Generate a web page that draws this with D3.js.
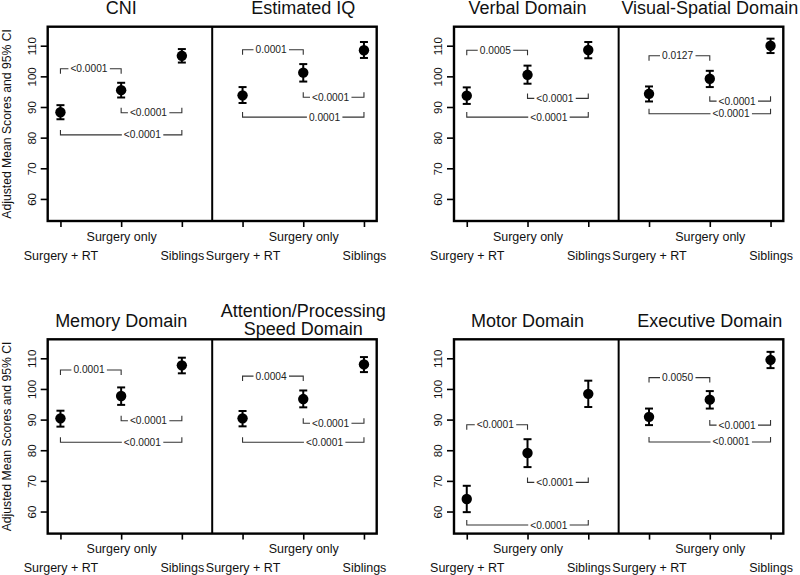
<!DOCTYPE html>
<html>
<head>
<meta charset="utf-8">
<script src="https://cdn.jsdelivr.net/npm/d3@7"></script>
<style>
  html, body { margin: 0; padding: 0; background: #fff; }
  svg { display: block; font-family: "Liberation Sans", Arial, Helvetica, sans-serif; }
</style>
</head>
<body>
<svg id="chart" width="800" height="575"></svg>
<script>
// ---------------- data ----------------
const titles = ["CNI", "Estimated IQ", "Verbal Domain", "Visual-Spatial Domain",
                "Memory Domain", "Attention/Processing\nSpeed Domain", "Motor Domain", "Executive Domain"];
const categories = ["Surgery + RT", "Surgery only", "Siblings"];
const means = [
  [88.3, 95.5, 106.7], [93.8, 101.2, 108.5], [93.7, 100.5, 108.6], [94.3, 99.2, 110.0],
  [90.4, 97.7, 107.7], [90.4, 96.7, 108.0], [64.1, 79.1, 98.4], [90.9, 96.5, 109.5]
];
const lower = [
  [86.0, 93.1, 104.5], [91.3, 98.3, 106.0], [91.0, 97.6, 105.9], [91.8, 96.5, 107.6],
  [87.7, 94.8, 105.1], [87.8, 94.0, 105.5], [59.8, 74.5, 94.1], [88.2, 93.6, 106.8]
];
const upper = [
  [90.6, 97.9, 108.9], [96.5, 104.0, 111.2], [96.4, 103.5, 111.2], [96.7, 101.8, 112.3],
  [92.9, 100.5, 110.2], [92.8, 99.5, 110.4], [68.4, 83.6, 102.7], [93.6, 99.3, 112.1]
];
// p-value brackets: [group1 vs group2, group2 vs group3, group1 vs group3]
const pLabels = [
  ["<0.0001", "<0.0001", "<0.0001"], ["0.0001", "<0.0001", "0.0001"],
  ["0.0005", "<0.0001", "<0.0001"], ["0.0127", "<0.0001", "<0.0001"],
  ["0.0001", "<0.0001", "<0.0001"], ["0.0004", "<0.0001", "<0.0001"],
  ["<0.0001", "<0.0001", "<0.0001"], ["0.0050", "<0.0001", "<0.0001"]
];
const pLevels = [
  [102.5, 88.1, 80.9], [108.7, 93.2, 86.7], [108.5, 92.8, 86.7], [106.7, 91.9, 87.8],
  [106.2, 89.6, 82.6], [104.2, 88.8, 82.6], [88.3, 69.5, 55.6], [103.7, 88.2, 82.7]
];
const yTicks = [60, 70, 80, 90, 100, 110];
const yTitle = "Adjusted Mean Scores and 95% CI";

// ---------------- layout ----------------
const svg = d3.select("#chart");
const rowTop = [26.7, 339.3], rowBottom = [221, 533.6];
const groupLeft = [47.7, 454], groupRight = [376.7, 783.3];
const yDomain = [52.8, 116.2];
const xDomain = [0.79, 6.21];

// bracket geometry (style)
const brPairs = [[0, 1], [1, 2], [0, 2]];
const brDir = [1, -1, -1];          // tick direction: +1 down, -1 up (pixels)
const brLabelFrac = [0.47, 0.45, 0.675];
const brTick = 5;

for (let row = 0; row < 2; row++) {
  for (let col = 0; col < 2; col++) {
    const g0 = row * 4 + col * 2; // index of left panel in this pair
    const x = d3.scaleLinear().domain(xDomain).range([groupLeft[col], groupRight[col]]);
    const y = d3.scaleLinear().domain(yDomain).range([rowBottom[row], rowTop[row]]);
    const g = svg.append("g");

    // left axis
    const ya = g.append("g")
      .attr("transform", `translate(${groupLeft[col]},0)`)
      .call(d3.axisLeft(y).tickValues(yTicks).tickSize(7).tickFormat(d3.format("d")));
    ya.select(".domain").remove();
    ya.selectAll(".tick line").attr("stroke", "#000").attr("stroke-width", 1.6);
    ya.selectAll(".tick text")
      .attr("x", null).attr("dy", null)
      .attr("transform", "translate(-16,0) rotate(-90)")
      .attr("text-anchor", "middle")
      .attr("dominant-baseline", "central")
      .attr("font-size", 11.5)
      .attr("fill", "#111");

    // bottom axis
    const xa = g.append("g")
      .attr("transform", `translate(0,${rowBottom[row]})`)
      .call(d3.axisBottom(x).tickValues([1, 2, 3, 4, 5, 6]).tickSize(6)
        .tickFormat(d => categories[(d - 1) % 3]));
    xa.select(".domain").remove();
    xa.selectAll(".tick line").attr("stroke", "#000").attr("stroke-width", 1.6);
    xa.selectAll(".tick text")
      .attr("y", d => ((d - 1) % 3 === 1) ? 15.8 : 34.5)
      .attr("dy", null)
      .attr("dominant-baseline", "central")
      .attr("font-size", 12.5)
      .attr("fill", "#111");

    // y-axis title for left groups
    if (col === 0) {
      g.append("text")
        .attr("transform", `translate(6.7,${(rowTop[row] + rowBottom[row]) / 2}) rotate(-90)`)
        .attr("text-anchor", "middle")
        .attr("dominant-baseline", "central")
        .attr("font-size", 12.2)
        .attr("fill", "#111")
        .text(yTitle);
    }

    for (let p = 0; p < 2; p++) {
      const idx = g0 + p;
      const off = p * 3;
      const pg = g.append("g");

      // title
      const lines = titles[idx].split("\n");
      const tx = x(off + 2);
      if (lines.length === 1) {
        pg.append("text")
          .attr("x", tx).attr("y", rowTop[row] - 12.3)
          .attr("text-anchor", "middle")
          .attr("font-size", 18)
          .attr("fill", "#111")
          .text(lines[0]);
      } else {
        pg.append("text")
          .attr("x", tx).attr("y", rowTop[row] - 22)
          .attr("text-anchor", "middle")
          .attr("font-size", 18)
          .attr("fill", "#111")
          .text(lines[0]);
        pg.append("text")
          .attr("x", tx).attr("y", rowTop[row] - 4.6)
          .attr("text-anchor", "middle")
          .attr("font-size", 18)
          .attr("fill", "#111")
          .text(lines[1]);
      }

      // brackets
      for (let b = 0; b < 3; b++) {
        const [i1, i2] = brPairs[b];
        const x1 = x(off + 1 + i1), x2 = x(off + 1 + i2);
        const yy = y(pLevels[idx][b]);
        const d = brDir[b] * brTick;
        pg.append("path")
          .attr("d", `M${x1},${yy + d}V${yy}H${x2}V${yy + d}`)
          .attr("fill", "none")
          .attr("stroke", "#333")
          .attr("stroke-width", 1.1);
        const lx = x1 + (x2 - x1) * brLabelFrac[b];
        const txt = pg.append("text")
          .attr("x", lx).attr("y", yy)
          .attr("text-anchor", "middle")
          .attr("dominant-baseline", "central")
          .attr("font-size", 10.2)
          .attr("fill", "#222")
          .text(pLabels[idx][b]);
        const bb = txt.node().getBBox();
        pg.insert("rect", function () { return txt.node(); })
          .attr("x", bb.x - 2).attr("y", yy - 2)
          .attr("width", bb.width + 4).attr("height", 4)
          .attr("fill", "#fff");
      }

      // error bars and points
      const pts = categories.map((c, i) => ({
        xv: off + 1 + i, m: means[idx][i], lo: lower[idx][i], hi: upper[idx][i]
      }));
      const eb = pg.selectAll(".eb").data(pts).enter().append("g");
      eb.append("line")
        .attr("x1", d => x(d.xv)).attr("x2", d => x(d.xv))
        .attr("y1", d => y(d.lo)).attr("y2", d => y(d.hi))
        .attr("stroke", "#000").attr("stroke-width", 2);
      eb.append("line")
        .attr("x1", d => x(d.xv) - 4).attr("x2", d => x(d.xv) + 4)
        .attr("y1", d => y(d.lo)).attr("y2", d => y(d.lo))
        .attr("stroke", "#000").attr("stroke-width", 2);
      eb.append("line")
        .attr("x1", d => x(d.xv) - 4).attr("x2", d => x(d.xv) + 4)
        .attr("y1", d => y(d.hi)).attr("y2", d => y(d.hi))
        .attr("stroke", "#000").attr("stroke-width", 2);
      eb.append("circle")
        .attr("cx", d => x(d.xv)).attr("cy", d => y(d.m))
        .attr("r", 5.2)
        .attr("fill", "#000");
    }

    // frame and divider
    g.append("rect")
      .attr("x", groupLeft[col]).attr("y", rowTop[row])
      .attr("width", groupRight[col] - groupLeft[col])
      .attr("height", rowBottom[row] - rowTop[row])
      .attr("fill", "none").attr("stroke", "#000").attr("stroke-width", 2.4);
    g.append("line")
      .attr("x1", x(3.5)).attr("x2", x(3.5))
      .attr("y1", rowTop[row]).attr("y2", rowBottom[row])
      .attr("stroke", "#000").attr("stroke-width", 2);
  }
}
</script>
</body>
</html>
